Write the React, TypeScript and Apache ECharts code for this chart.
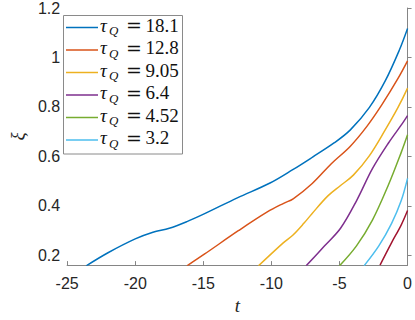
import React, { useEffect, useRef } from "react";
import * as echarts from "echarts";

// MATLAB default colour order
const seriesColors = ["#0072BD", "#D95319", "#EDB120", "#7E2F8E", "#77AC30", "#4DBEEE", "#A2142F"];

// legend labels (tau_Q values); the 7th curve has no legend entry
const tauLabels = ["18.1", "12.8", "9.05", "6.4", "4.52", "3.2"];

// [t, xi] points
const curveTau18_1: number[][] = [
  [-23.6, 0.157], [-22, 0.21], [-20, 0.266], [-18.7, 0.293], [-17.5, 0.309], [-16.2, 0.336],
  [-14.9, 0.368], [-12.5, 0.432], [-10.1, 0.492], [-8.43, 0.546], [-7, 0.596], [-5.4, 0.654],
  [-4.2, 0.707], [-2.8, 0.798], [-1.64, 0.905], [-0.6, 1.03], [0, 1.117],
];
const curveTau12_8: number[][] = [
  [-16.2, 0.157], [-14.9, 0.205], [-12.4, 0.3], [-10.3, 0.375], [-9.1, 0.41], [-8.4, 0.428],
  [-7, 0.49], [-5.6, 0.57], [-4.2, 0.641], [-3, 0.72], [-1.87, 0.81], [-0.7, 0.915], [0, 0.986],
];
const curveTau9_05: number[][] = [
  [-10.95, 0.157], [-9.13, 0.25], [-8.43, 0.281], [-7.6, 0.33], [-7.02, 0.368], [-5.85, 0.44],
  [-4.92, 0.482], [-3.98, 0.524], [-2.81, 0.602], [-1.64, 0.707], [-0.7, 0.798], [0, 0.876],
];
const curveTau6_4: number[][] = [
  [-7.45, 0.157], [-6.09, 0.238], [-4.92, 0.309], [-3.75, 0.42], [-2.58, 0.55], [-1.4, 0.654],
  [-0.47, 0.726], [0, 0.765],
];
const curveTau4_52: number[][] = [
  [-5.0, 0.157], [-3.75, 0.238], [-2.58, 0.342], [-1.4, 0.485], [-0.47, 0.615], [0, 0.687],
];
const curveTau3_2: number[][] = [
  [-3.2, 0.157], [-2.11, 0.238], [-1.17, 0.329], [-0.47, 0.42], [0, 0.511],
];
const curveTau2_26: number[][] = [
  [-2.02, 0.16], [-1.17, 0.251], [-0.47, 0.322], [0, 0.381],
];

const curves = [curveTau18_1, curveTau12_8, curveTau9_05, curveTau6_4, curveTau4_52, curveTau3_2, curveTau2_26];

const xTicksMin = -25;
const xTicksMax = 0;
const xTickStep = 5;
const yMin = 0.16;
const yMax = 1.2;
const yTickStep = 0.2;

export default function App() {
  const ref = useRef<HTMLDivElement>(null);
  useEffect(() => {
    if (!ref.current) return;
    const chart = echarts.init(ref.current, undefined, { renderer: "svg" });

    const legendX = 63.5;
    const legendY = 15.5;
    const rowGap = 22.5;
    const firstRow = 27.5;
    const legendEls: any[] = [
      {
        type: "rect",
        shape: { x: legendX, y: legendY, width: 119, height: 138.5 },
        style: { fill: "#fff", stroke: "#8a8a8a", lineWidth: 1 },
        z: 100,
      },
    ];
    tauLabels.forEach((lab, i) => {
      const ry = firstRow + i * rowGap;
      legendEls.push({
        type: "line",
        shape: { x1: 66, y1: ry, x2: 98, y2: ry },
        style: { stroke: seriesColors[i], lineWidth: 1.5 },
        z: 101,
      });
      legendEls.push({
        type: "text",
        x: 100,
        y: ry - 2.3,
        style: { text: "τ", font: 'italic 19px "Liberation Serif"', fill: "#111", verticalAlign: "middle", align: "left" },
        z: 101,
      });
      legendEls.push({
        type: "text",
        x: 109,
        y: ry + 3.3,
        style: { text: "Q", font: 'italic 13px "Liberation Serif"', fill: "#111", verticalAlign: "middle", align: "left" },
        z: 101,
      });
      legendEls.push({
        type: "text",
        x: 126,
        y: ry - 2.3,
        style: { text: "=", font: '19px "DejaVu Serif"', fill: "#111", verticalAlign: "middle", align: "left" },
        z: 101,
      });
      legendEls.push({
        type: "text",
        x: 145.5,
        y: ry - 2.3,
        style: { text: lab, font: '19px "Liberation Serif"', fill: "#111", verticalAlign: "middle", align: "left" },
        z: 101,
      });
    });

    const axisLineStyle = { color: "#858585", width: 1 };
    const labelStyle = { color: "#262626", fontSize: 16, fontFamily: '"Liberation Sans", Arial, sans-serif' };

    chart.setOption({
      animation: false,
      backgroundColor: "#fff",
      grid: { left: 54, right: 5, top: 6, bottom: 47, containLabel: false },
      xAxis: {
        type: "value",
        min: xTicksMin,
        max: xTicksMax,
        interval: xTickStep,
        name: "t",
        nameLocation: "middle",
        nameGap: 29,
        nameTextStyle: { fontFamily: '"Liberation Serif"', fontStyle: "italic", fontSize: 19, color: "#262626" },
        axisLine: { show: true, lineStyle: axisLineStyle },
        axisTick: { show: true, inside: true, length: 4, lineStyle: axisLineStyle },
        axisLabel: { ...labelStyle, margin: 10 },
        splitLine: { show: false },
      },
      yAxis: {
        type: "value",
        min: yMin,
        max: yMax,
        minInterval: yTickStep,
        maxInterval: yTickStep,
        name: "ξ",
        nameLocation: "middle",
        nameGap: 32,
        nameTextStyle: { fontFamily: '"Liberation Serif"', fontStyle: "italic", fontSize: 19, color: "#262626" },
        axisLine: { show: true, lineStyle: axisLineStyle },
        axisTick: { show: true, inside: true, length: 4, lineStyle: axisLineStyle },
        axisLabel: {
          ...labelStyle,
          margin: 7,
          showMinLabel: false,
          formatter: (v: number) => {
            const k = v / yTickStep;
            return Math.abs(k - Math.round(k)) < 1e-6 ? String(Math.round(v * 10) / 10) : "";
          },
        },
        splitLine: { show: false },
      },
      series: curves.map((c, i) => ({
        type: "line",
        data: c,
        showSymbol: false,
        symbol: "none",
        smooth: 0.35,
        clip: true,
        lineStyle: { color: seriesColors[i], width: 1.5 },
        itemStyle: { color: seriesColors[i] },
      })),
      graphic: legendEls,
    });
    return () => chart.dispose();
  }, []);
  return (
    <div
      ref={ref}
      style={{ position: "fixed", left: 0, top: 0, width: 415, height: 320, background: "#fff" }}
    />
  );
}
